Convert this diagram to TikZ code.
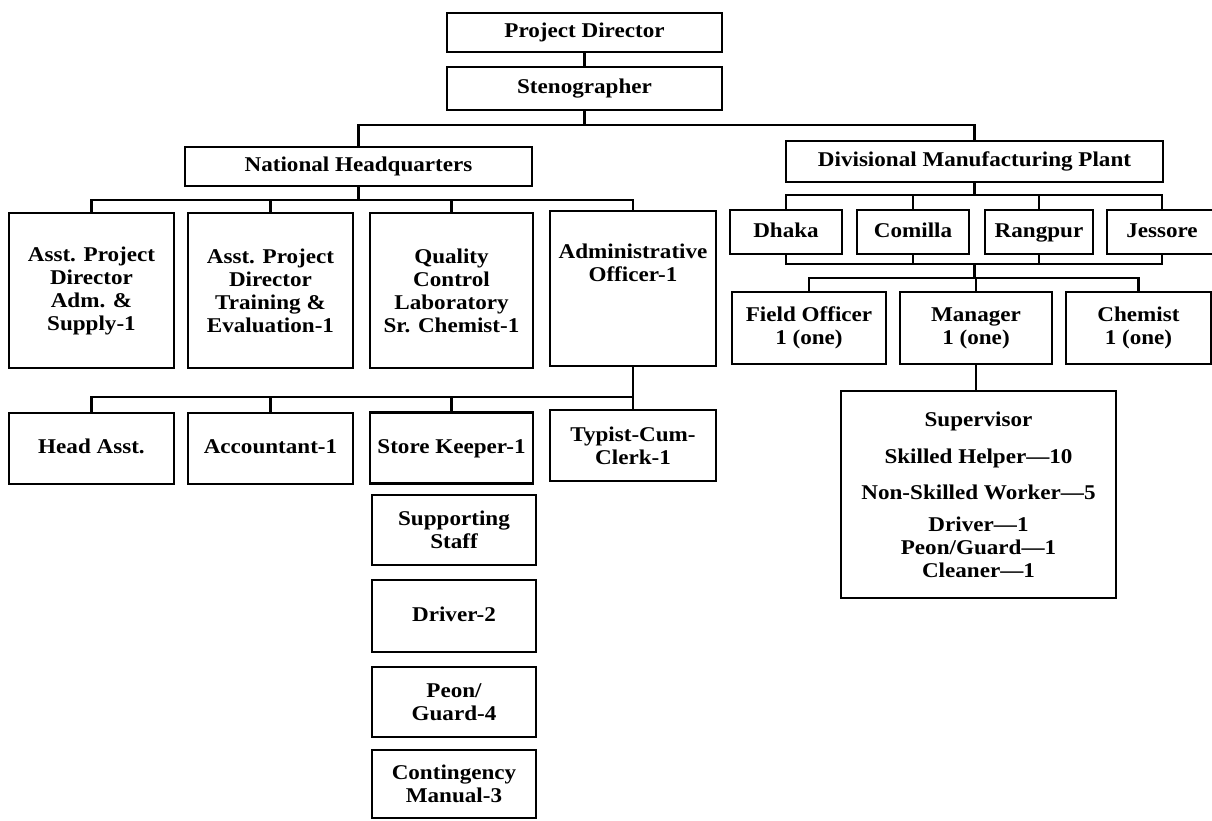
\documentclass[tikz,border=0pt]{standalone}
\usepackage{fontspec}
\setmainfont{Liberation Serif}[FakeStretch=1.1]
\begin{document}
\begin{tikzpicture}[x=1pt,y=-1pt,
  lbl/.style={inner sep=0pt, align=center, font=\fontsize{21}{23}\selectfont\bfseries},
  box/.style={lbl, draw, line width=2.5pt},
  one/.style={text height=14.5pt, text depth=4.5pt},
  wire/.style={line width=2.5pt}]
\useasboundingbox (0,0) rectangle (1212,820);
\fill[white] (0,0) rectangle (1212,820);

% top of the chart
\node[box, one, minimum width=275, minimum height=39] (pd) at (584.5,32.5) {Project Director};
\node[box, one, minimum width=275, minimum height=43] (steno) at (584.5,88.5) {Stenographer};
\node[box, one, minimum width=347, minimum height=39] (nhq) at (358.5,166.5) {National Headquarters};
\node[box, one, minimum width=377, minimum height=41] (dmp) at (974.5,161.5) {Divisional Manufacturing Plant};

% national headquarters, first level
\node[box, minimum width=165, minimum height=155] (apd1) at (91.5,290.5) {Asst. Project\\Director\\Adm. \&\\Supply-1};
\node[box, minimum width=165, minimum height=155] (apd2) at (270.5,290.5) {Asst. Project\\Director\\Training \&\\Evaluation-1};
\node[box, minimum width=163, minimum height=155] (qc) at (451.5,290.5) {Quality\\Control\\Laboratory\\Sr. Chemist-1};
\node[box, minimum width=166, minimum height=155] (ao) at (633,288.5) {};
\node[lbl] (aotext) at (633,262.5) {Administrative\\Officer-1};

% administrative officer's staff
\node[box, one, minimum width=165, minimum height=71] (ha) at (91.5,448.5) {Head Asst.};
\node[box, one, minimum width=165, minimum height=71] (acc) at (270.5,448.5) {Accountant-1};
\node[box, one, minimum width=163, minimum height=71] (sk) at (451.5,448) {Store Keeper-1};
\node[box, minimum width=166, minimum height=71] (tc) at (633,445.5) {Typist-Cum-\\Clerk-1};

% supporting staff column
\node[box, minimum width=164, minimum height=70] (ss) at (454,530) {Supporting\\Staff};
\node[box, one, minimum width=164, minimum height=72] (dr2) at (454,616) {Driver-2};
\node[box, minimum width=164, minimum height=70] (pg) at (454,702) {Peon/\\Guard-4};
\node[box, minimum width=164, minimum height=68] (cm) at (454,784) {Contingency\\Manual-3};

% divisional plants
\node[box, one, minimum width=112, minimum height=44] (dhaka) at (786,232) {Dhaka};
\node[box, one, minimum width=112, minimum height=44] (comilla) at (913,232) {Comilla};
\node[box, one, minimum width=108, minimum height=44] (rangpur) at (1039,232) {Rangpur};
\node[box, one, minimum width=110, minimum height=44] (jessore) at (1162,232) {Jessore};

\node[box, minimum width=154, minimum height=72] (fo) at (809,328) {Field Officer\\1 (one)};
\node[box, minimum width=152, minimum height=72] (mgr) at (976,328) {Manager\\1 (one)};
\node[box, minimum width=145, minimum height=72] (chem) at (1138.5,328) {Chemist\\1 (one)};

\node[box, minimum width=275, minimum height=207] (sup) at (978.5,494.5)
  {Supervisor\\[14pt] Skilled Helper—10\\[13pt] Non-Skilled Worker—5\\[9pt] Driver—1\\ Peon/Guard—1\\ Cleaner—1};

% bus points
\coordinate (b1) at (584.5,125);
\coordinate (b2) at (358.5,200);
\coordinate (b3) at (633,397);
\coordinate (b4) at (974.5,195);
\coordinate (b5) at (974.5,264);
\coordinate (b6) at (974.5,278);

% connectors
\draw[wire] (pd.south) -- (steno.north);
\draw[wire] (steno.south) -- (b1);
\draw[wire] (nhq.north) |- (b1) -| (dmp.north);

\draw[wire] (nhq.south) -- (b2);
\draw[wire] (apd1.north) |- (b2) -| (ao.north);
\draw[wire] (apd2.north) -- (apd2.north |- b2);
\draw[wire] (qc.north) -- (qc.north |- b2);

\draw[wire] (ao.south) -- (tc.north);
\draw[wire] (ha.north) |- (b3);
\draw[wire] (acc.north) -- (acc.north |- b3);
\draw[wire] (sk.north) -- (sk.north |- b3);

\draw[wire] (dmp.south) -- (b4);
\draw[wire] (dhaka.north) |- (b4) -| (jessore.north);
\draw[wire] (comilla.north) -- (comilla.north |- b4);
\draw[wire] (rangpur.north) -- (rangpur.north |- b4);

\draw[wire] (dhaka.south) |- (b5) -| (jessore.south);
\draw[wire] (comilla.south) -- (comilla.south |- b5);
\draw[wire] (rangpur.south) -- (rangpur.south |- b5);
\draw[wire] (b5) -- (b6);
\draw[wire] (fo.north) |- (b6) -| (chem.north);
\draw[wire] (mgr.north) -- (mgr.north |- b6);

\draw[wire] (mgr.south) -- (mgr.south |- sup.north);
\end{tikzpicture}
\end{document}
